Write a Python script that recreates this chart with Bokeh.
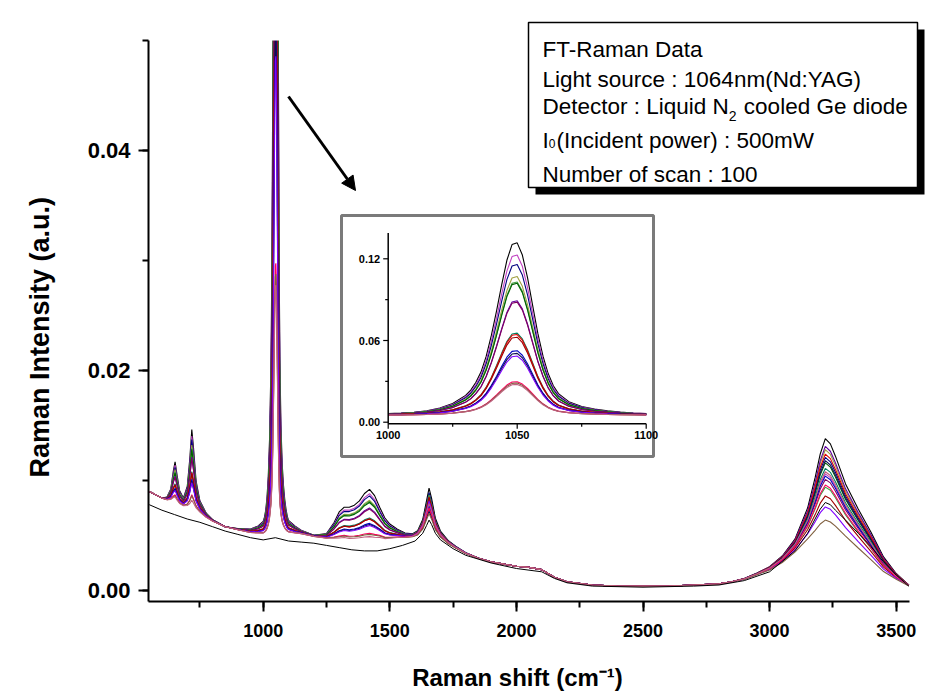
from bokeh.plotting import figure
from bokeh.models import (Range1d, SingleIntervalTicker, PrintfTickFormatter,
                          Label, BoxAnnotation, Arrow, NormalHead)
from bokeh.core.properties import value
from bokeh.embed import file_html
from bokeh.resources import INLINE

# ---------------------------------------------------------------- data
# Raman shift sampling points (cm^-1)
shift = [550, 575, 600, 620, 635, 645, 652, 660, 670, 685, 700, 710, 718, 725, 735, 750, 775, 800, 850, 900, 950, 980,
         1000, 1005, 1010, 1015, 1020, 1025, 1030,
         1032, 1034, 1036, 1038, 1040, 1042, 1044, 1046, 1048, 1050, 1052, 1054, 1056, 1058, 1060, 1062, 1064, 1066,
         1070, 1075, 1080, 1085, 1090, 1095, 1100,
         1125, 1150, 1200, 1250, 1280, 1300, 1320, 1340, 1360, 1380,
         1400, 1420, 1440, 1460, 1480, 1500, 1530, 1560, 1590, 1610,
         1630, 1645, 1655, 1665, 1680, 1700, 1730, 1760, 1800, 1850,
         1900, 1950, 2000, 2050, 2100, 2150, 2200, 2300, 2400, 2500,
         2600, 2700, 2800, 2850, 2900, 2950, 3000, 3050, 3100, 3150,
         3180, 3200, 3220, 3240, 3260, 3300, 3350, 3400, 3450, 3500,
         3550]

# common background of the sample spectra (a.u.), one value per shift point
background = [0.0090, 0.0087, 0.0084, 0.0082, 0.0081, 0.0080, 0.0079, 0.0078, 0.0077, 0.0076, 0.0075, 0.0074, 0.0074,
              0.0073, 0.0072, 0.0070, 0.0066, 0.0063, 0.0058, 0.0055, 0.0052, 0.0051,
              0.0050, 0.0050, 0.0050, 0.0050, 0.0050, 0.0050, 0.0050,
              0.0050, 0.0050, 0.0050, 0.0050, 0.0050, 0.0050, 0.0050, 0.0050, 0.0050, 0.0050, 0.0050, 0.0050, 0.0050,
              0.0050, 0.0050, 0.0050, 0.0050, 0.0050,
              0.0051, 0.0051, 0.0051, 0.0051, 0.0051, 0.0051, 0.0051,
              0.0051, 0.0051, 0.0049, 0.0047, 0.0046, 0.0045, 0.0045, 0.0044, 0.0044, 0.0044,
              0.0044, 0.0044, 0.0044, 0.0045, 0.0045, 0.0046, 0.0047, 0.0047, 0.0047, 0.0047,
              0.0047, 0.0047, 0.0047, 0.0046, 0.0045, 0.0043, 0.0040, 0.0037, 0.0033, 0.0029,
              0.0026, 0.0024, 0.0022, 0.0021, 0.0019, 0.0012, 0.0008, 0.0005, 0.0004, 0.0004,
              0.0004, 0.0005, 0.0006, 0.0008, 0.0010, 0.0014, 0.0018, 0.0024, 0.0032, 0.0040,
              0.0043, 0.0045, 0.0046, 0.0045, 0.0043, 0.0038, 0.0030, 0.0022, 0.0014, 0.0009,
              0.0004]

# normalised band profiles (1 at the band maximum), keyed by shift
band_650 = {600: 0.0, 620: 0.08, 635: 0.30, 645: 0.75, 652: 1.0, 660: 0.70, 670: 0.32, 685: 0.10, 700: 0.04,
            710: 0.02, 718: 0.01}
band_720 = {670: 0.02, 685: 0.06, 700: 0.25, 710: 0.62, 718: 1.0, 725: 0.78, 735: 0.38, 750: 0.16, 775: 0.06,
            800: 0.02}
band_1050 = {900: 0.001, 950: 0.003, 980: 0.006, 1000: 0.010, 1005: 0.013, 1010: 0.018, 1015: 0.027, 1020: 0.042,
             1025: 0.068, 1030: 0.115, 1032: 0.145, 1034: 0.190, 1036: 0.250, 1038: 0.340, 1040: 0.460,
             1042: 0.600, 1044: 0.750, 1046: 0.890, 1048: 0.980, 1050: 0.990, 1052: 0.920, 1054: 0.790,
             1056: 0.630, 1058: 0.470, 1060: 0.340, 1062: 0.240, 1064: 0.170, 1066: 0.125,
             1070: 0.078, 1075: 0.050, 1080: 0.035, 1085: 0.025, 1090: 0.018, 1095: 0.013, 1100: 0.010,
             1125: 0.006, 1150: 0.003, 1200: 0.001}
band_1400 = {1250: 0.10, 1280: 0.33, 1300: 0.55, 1320: 0.64, 1340: 0.66, 1360: 0.70, 1380: 0.78, 1400: 0.92,
             1420: 1.0, 1440: 0.88, 1460: 0.64, 1480: 0.44, 1500: 0.30, 1530: 0.17, 1560: 0.08, 1590: 0.03,
             1610: 0.01}
band_1650 = {1530: 0.01, 1560: 0.03, 1590: 0.07, 1610: 0.15, 1630: 0.38, 1645: 0.75, 1655: 1.0, 1665: 0.82,
             1680: 0.45, 1700: 0.24, 1730: 0.12, 1760: 0.07, 1800: 0.03, 1850: 0.01}
band_3220 = {2900: 0.01, 2950: 0.02, 3000: 0.04, 3050: 0.08, 3100: 0.16, 3150: 0.38, 3180: 0.65, 3200: 0.86,
             3220: 1.0, 3240: 0.96, 3260: 0.86, 3300: 0.64, 3350: 0.48, 3400: 0.34, 3450: 0.18, 3500: 0.07,
             3550: 0.01}

# band heights (a.u.) for each of the 17 sample spectra
h1050 = [0.128, 0.119, 0.112, 0.103, 0.099, 0.098, 0.085, 0.084, 0.061, 0.060, 0.058, 0.048, 0.046, 0.044,
         0.025, 0.024, 0.023]
h720 = [0.0072, 0.0066, 0.0063, 0.0058, 0.0055, 0.0054, 0.0047, 0.0046, 0.0034, 0.0033, 0.0032, 0.0027,
        0.0025, 0.0024, 0.0013, 0.0012, 0.0008]
h650 = [0.0038, 0.0035, 0.0033, 0.0031, 0.0029, 0.0028, 0.0025, 0.0024, 0.0018, 0.0017, 0.0017, 0.0014,
        0.0013, 0.0012, 0.0008, 0.0007, 0.0006]
h1400 = [0.0048, 0.0044, 0.0042, 0.0038, 0.0037, 0.0036, 0.0031, 0.0030, 0.0022, 0.0021, 0.0021, 0.0017,
         0.0016, 0.0015, 0.0008, 0.0007, 0.0005]
h1650 = [0.0046, 0.0038, 0.0042, 0.0035, 0.0040, 0.0031, 0.0036, 0.0029, 0.0033, 0.0027, 0.0038, 0.0030,
         0.0025, 0.0034, 0.0028, 0.0023, 0.0032]
h3220 = [0.0092, 0.0060, 0.0075, 0.0082, 0.0048, 0.0070, 0.0085, 0.0055, 0.0065, 0.0078, 0.0040, 0.0058,
         0.0072, 0.0030, 0.0050, 0.0018, 0.0062]

series_colors = ["#000000", "#c040c0", "#000080", "#a0a040", "#40a040", "#006000", "#6000a0", "#800060",
                 "#008060", "#e00000", "#a00000", "#0000c0", "#101050", "#8000ff", "#ff0060", "#806040",
                 "#c06080"]

# solvent spectrum (black trace without the sample bands)
solvent_shift = [550, 600, 650, 700, 750, 800, 850, 900, 950, 1000, 1048, 1100, 1150, 1200, 1250, 1300, 1350,
                 1400, 1450, 1500, 1550, 1600, 1630, 1645, 1655, 1665, 1680, 1700, 1750, 1800, 1900, 2000,
                 2100, 2150, 2200, 2300, 2500, 2700, 2800, 2900, 3000, 3100, 3150, 3200, 3220, 3240, 3260,
                 3300, 3350, 3400, 3450, 3500, 3550]
solvent_int = [0.0078, 0.0073, 0.0069, 0.0065, 0.0062, 0.0058, 0.0054, 0.0051, 0.0048, 0.0046, 0.0048, 0.0045,
               0.0044, 0.0043, 0.0041, 0.0039, 0.0037, 0.0036, 0.0036, 0.0038, 0.0041, 0.0045, 0.0052, 0.0059,
               0.0064, 0.0060, 0.0052, 0.0046, 0.0038, 0.0032, 0.0025, 0.0020, 0.0017, 0.0011, 0.0007, 0.0004,
               0.0003, 0.0004, 0.0005, 0.0009, 0.0017, 0.0036, 0.0052, 0.0074, 0.0080, 0.0078, 0.0073, 0.0064,
               0.0052, 0.0040, 0.0026, 0.0014, 0.0004]

# axis extents and ticks
main_x_span = (547.0, 3552.5)
main_y_span = (-0.001, 0.05)
main_x_interval = 500
main_y_interval = 0.02
inset_x_ticks = [1000, 1050, 1100]
inset_x_minor = [1025, 1075]
inset_y_ticks = [0.00, 0.06, 0.12]
inset_y_minor = [0.03, 0.09]
inset_x_span = (1000, 1100)
inset_y_span = (-0.0012, 0.139)

assert len(shift) == len(background)


def spectrum(i):
    bands = [(band_650, h650[i]), (band_720, h720[i]), (band_1050, h1050[i]),
             (band_1400, h1400[i]), (band_1650, h1650[i]), (band_3220, h3220[i])]
    return [b + sum(h * prof.get(x, 0.0) for prof, h in bands) for x, b in zip(shift, background)]


spectra = [spectrum(i) for i in range(len(h1050))]

# ---------------------------------------------------------------- layout
W, H = 952, 700
FL, FR, FT, FB = 148, 926, 20, 601          # plotting frame (pixels)
AX_R, AX_T = 909, 40                        # visible end of the x and y axes (pixels)
FONT = "Liberation Sans"
NBSP = "\u00a0"

XS = (AX_R - FL) / (main_x_span[1] - main_x_span[0])     # pixels per cm^-1
YS = (FB - AX_T) / (main_y_span[1] - main_y_span[0])     # pixels per a.u.
X0 = main_x_span[0]
X1 = X0 + (FR - FL) / XS
Y0 = main_y_span[0]
Y1 = Y0 + (FB - FT) / YS
# main-plot traces are cut inside the white strip above the y-axis end
Y_CUT = 0.5 * (main_y_span[1] + Y1)


def dx(px):
    return X0 + (px - FL) / XS


def dy(py):
    return Y0 + (FB - py) / YS


def linmap(va, pa, vb, pb, pix):
    return va + (pix - pa) * (vb - va) / (pb - pa)


# Arial / Liberation Sans advance widths (1/1000 em)
REG = {" ": 278, NBSP: 278, "(": 333, ")": 333, "-": 333, ".": 278, ":": 278, "A": 667, "D": 722, "G": 778,
       "I": 278, "L": 556, "N": 722, "R": 722, "T": 611, "Y": 667, "F": 611, "W": 944, "a": 556, "c": 500,
       "d": 556, "e": 556, "f": 278, "g": 556, "h": 556, "i": 222, "l": 222, "m": 833, "n": 556, "o": 556,
       "p": 556, "q": 556, "r": 333, "s": 500, "t": 278, "u": 556, "w": 722, "y": 500, "b": 556}


def text_width(s, size):
    return sum(REG.get(ch, 556) for ch in s) * size / 1000.0


p = figure(width=W, height=H, x_range=Range1d(X0, X1), y_range=Range1d(Y0, Y1),
           output_backend="svg", toolbar_location=None,
           min_border_left=FL, min_border_right=W - FR, min_border_top=FT, min_border_bottom=H - FB)
p.outline_line_color = None
p.xgrid.visible = False
p.ygrid.visible = False
p.background_fill_color = "white"
p.border_fill_color = "white"

xa, ya = p.xaxis[0], p.yaxis[0]
xa.ticker = SingleIntervalTicker(interval=main_x_interval, num_minor_ticks=2)
ya.ticker = SingleIntervalTicker(interval=main_y_interval, num_minor_ticks=2)
xa.bounds = main_x_span
ya.bounds = main_y_span
for ax in (xa, ya):
    ax.axis_line_width = 2
    ax.major_tick_line_width = 2
    ax.minor_tick_line_width = 2
    ax.major_tick_in = 0
    ax.minor_tick_in = 0
    ax.major_tick_out = 10
    ax.minor_tick_out = 6
    ax.major_label_text_font = FONT
    ax.major_label_text_font_style = "bold"
    ax.major_label_text_color = "black"
    ax.axis_label_text_font = FONT
    ax.axis_label_text_font_style = "bold"
    ax.axis_label_text_color = "black"

xa.major_label_text_font_size = "18px"
xa.major_label_standoff = 12
ya.major_label_text_font_size = "22px"
ya.major_label_standoff = 8
ya.formatter = PrintfTickFormatter(format="%.2f")

# axis titles (trailing no-break spaces move the centred title off the frame centre)
ya.axis_label = "Raman Intensity (a.u.)" + NBSP * 7
ya.axis_label_text_font_size = "27px"
ya.axis_label_standoff = 30
xa.axis_label = "Raman shift (cm\u207b\u00b9)" + NBSP * 6
xa.axis_label_text_font_size = "24px"
xa.axis_label_standoff = 24

# spectra
for ys, col in zip(spectra, series_colors):
    p.line(shift, [min(v, Y_CUT) for v in ys], line_color=col, line_width=1.1)
p.line(solvent_shift, solvent_int, line_color="black", line_width=1)

# keep the strip above the y-axis end empty
p.quad(left=X0, right=X1, bottom=main_y_span[1], top=Y1 + (Y1 - Y0), fill_color="white", line_color=None)

# ---------------------------------------------------------------- inset
p.quad(left=dx(341), right=dx(653), top=dy(215), bottom=dy(456),
       fill_color="white", line_color="#7a7a7a", line_width=3)

ix_a, ix_pa, ix_b, ix_pb = 1000, 387.7, 1100, 645.7
iy_a, iy_pa, iy_b, iy_pb = 0.0, 421.7, 0.06, 340.0
p.extra_x_ranges = {"ix": Range1d(linmap(ix_a, ix_pa, ix_b, ix_pb, FL), linmap(ix_a, ix_pa, ix_b, ix_pb, FR))}
p.extra_y_ranges = {"iy": Range1d(linmap(iy_a, iy_pa, iy_b, iy_pb, FB), linmap(iy_a, iy_pa, iy_b, iy_pb, FT))}
upx_x = (ix_b - ix_a) / (ix_pb - ix_pa)      # inset x units per pixel
upx_y = (iy_b - iy_a) / (iy_pa - iy_pb)      # inset y units per pixel
IR = dict(x_range_name="ix", y_range_name="iy")

inset_idx = [k for k, x in enumerate(shift) if inset_x_span[0] <= x <= inset_x_span[1]]
inset_x = [shift[k] for k in inset_idx]
for ys, col in zip(spectra, series_colors):
    p.line(inset_x, [ys[k] for k in inset_idx], line_color=col, line_width=1.1, **IR)

xa0, xa1 = inset_x_span
ya0, ya1 = inset_y_span
p.segment(x0=[xa0, xa0], y0=[ya0, ya0], x1=[xa0, xa1], y1=[ya1, ya0], line_color="black", line_width=1.5, **IR)
p.segment(x0=[xa0] * 3, y0=inset_y_ticks, x1=[xa0 - 5 * upx_x] * 3, y1=inset_y_ticks,
          line_color="black", line_width=1.2, **IR)
p.segment(x0=[xa0] * 2, y0=inset_y_minor, x1=[xa0 - 3 * upx_x] * 2, y1=inset_y_minor,
          line_color="black", line_width=1.2, **IR)
p.segment(x0=inset_x_ticks, y0=[ya0] * 3, x1=inset_x_ticks, y1=[ya0 - 5 * upx_y] * 3,
          line_color="black", line_width=1.2, **IR)
p.segment(x0=inset_x_minor, y0=[ya0] * 2, x1=inset_x_minor, y1=[ya0 - 3 * upx_y] * 2,
          line_color="black", line_width=1.2, **IR)
p.text(x=[xa0] * 3, y=inset_y_ticks, text=[f"{v:.2f}" for v in inset_y_ticks], x_offset=-8,
       text_align="right", text_baseline="middle", text_font=value(FONT), text_font_style="bold",
       text_font_size="11px", text_color="black", **IR)
p.text(x=inset_x_ticks, y=[ya0] * 3, text=[str(v) for v in inset_x_ticks], y_offset=7,
       text_align="center", text_baseline="top", text_font=value(FONT), text_font_style="bold",
       text_font_size="11px", text_color="black", **IR)

# arrow pointing from the main peak to the inset
p.add_layout(Arrow(x_start=dx(288), y_start=dy(96), x_end=dx(355), y_end=dy(190), line_width=3,
                   line_color="black", end=NormalHead(size=14, fill_color="black", line_color="black")))

# ---------------------------------------------------------------- info box
BL, BR, BT, BB, SH = 528, 917, 22, 187, 7
p.add_layout(BoxAnnotation(left=dx(BL + SH), right=dx(BR + SH), top=dy(BT + SH), bottom=dy(BB + SH),
                           fill_color="black", fill_alpha=1.0, line_color=None))
p.add_layout(BoxAnnotation(left=dx(BL), right=dx(BR), top=dy(BT), bottom=dy(BB),
                           fill_color="white", fill_alpha=1.0, line_color="black", line_width=1.5,
                           line_alpha=1.0))

TX, TS = 542, 22.5
info_lines = [
    (49, [("FT-Raman Data", TS, 0)]),
    (79, [("Light source : 1064nm(Nd:YAG)", TS, 0)]),
    (106, [("Detector : Liquid N", TS, 0), ("2", 14, 9), (NBSP + "cooled Ge diode", TS, 0)]),
    (140, [("I", TS, 0), ("0", 12, 3), ("(Incident power) : 500mW", TS, 0)]),
    (174, [("Number of scan : 100", TS, 0)]),
]
for base, parts in info_lines:
    cx = TX
    for txt, size, drop in parts:
        p.add_layout(Label(x=dx(cx), y=dy(base + drop), text=txt, text_align="left",
                           text_baseline="alphabetic", text_font=FONT, text_font_size=f"{size}px",
                           text_color="black"))
        cx += text_width(txt, size) + (1 if size < TS else 0)

open("out.html", "w").write(file_html(p, INLINE))
